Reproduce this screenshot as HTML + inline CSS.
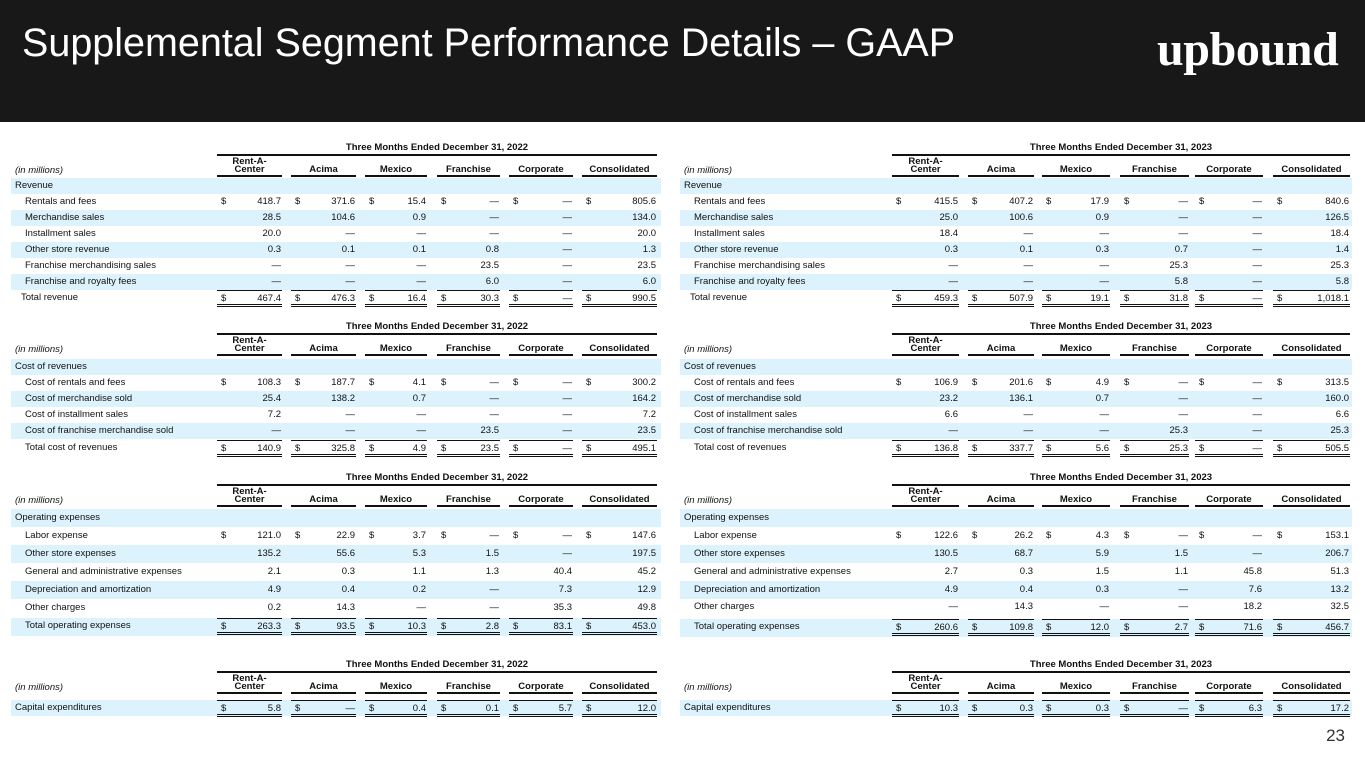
<!DOCTYPE html>
<html><head><meta charset="utf-8"><style>
*{margin:0;padding:0;box-sizing:border-box}
body{width:1365px;height:768px;background:#fff;position:relative;overflow:hidden;font-family:"Liberation Sans",Arial,sans-serif;color:#111;font-size:9.5px}
.hd{position:absolute;left:0;top:0;width:1365px;height:122px;background:#181818}
.ttl{position:absolute;left:22px;top:21px;color:#fff;font-size:39.5px;white-space:nowrap}
.logo{position:absolute;left:1157px;top:22px;color:#fff;font-family:"Liberation Serif",serif;font-weight:bold;font-size:48px;letter-spacing:-0.4px}
.pg{position:absolute;right:20px;top:726px;font-size:17px;color:#333}
.P{position:absolute;width:672px}
.L{left:11px;width:650px}.R{left:680px;width:672px}
.th{position:absolute;left:0;width:100%;height:40px}
.tt{position:absolute;top:1px;font-weight:bold;text-align:center;height:14px;line-height:14px}
.tl{position:absolute;top:14px;height:2px;background:#111}
.im{position:absolute;left:4px;top:25px;font-style:italic;line-height:12px}
.hc{position:absolute;bottom:3px;height:20px;border-bottom:2px solid #111;font-weight:bold;text-align:center;line-height:8px;display:flex;align-items:flex-end;justify-content:center;padding-bottom:1px}
.r{position:absolute;left:0;width:100%;height:16px;line-height:16px;white-space:nowrap}
.b{background:#dcf2fd}
.lb{position:absolute;left:4px}
.in{left:14px}
.c{position:absolute;top:0;height:16px;text-align:right;padding-right:1px}
.c s{position:absolute;left:4px;text-decoration:none}
.t .c{border-top:1px solid #111;border-bottom:3px double #111;height:17px;line-height:15px}
.L .c1{left:206px;width:65px}.L .c2{left:280px;width:65px}.L .c3{left:354px;width:62px}.L .c4{left:426px;width:63px}.L .c5{left:498px;width:64px}.L .c6{left:571px;width:75px}
.R .c1{left:212px;width:67px}.R .c2{left:288px;width:66px}.R .c3{left:362px;width:68px}.R .c4{left:440px;width:69px}.R .c5{left:515px;width:68px}.R .c6{left:593px;width:77px}
.L .tt,.L .tl{left:206px;width:440px}.R .tt,.R .tl{left:212px;width:458px}
</style></head><body>
<div class="hd"><div class="ttl">Supplemental Segment Performance Details – GAAP</div><div class="logo">upbound</div></div>

<!-- LEFT PANEL -->
<div class="P L" style="top:0;height:768px">
<div class="th" style="top:140px"><div class="tt">Three Months Ended December 31, 2022</div><div class="tl"></div><div class="im">(in millions)</div>
<div class="hc c1">Rent-A-<br>Center</div><div class="hc c2">Acima</div><div class="hc c3">Mexico</div><div class="hc c4">Franchise</div><div class="hc c5">Corporate</div><div class="hc c6">Consolidated</div></div>
<div class="r b" style="top:178px"><span class="lb">Revenue</span></div>
<div class="r" style="top:194px"><span class="lb in">Rentals and fees</span><span class="c c1"><s>$</s>418.7</span><span class="c c2"><s>$</s>371.6</span><span class="c c3"><s>$</s>15.4</span><span class="c c4"><s>$</s>—</span><span class="c c5"><s>$</s>—</span><span class="c c6"><s>$</s>805.6</span></div>
<div class="r b" style="top:210px"><span class="lb in">Merchandise sales</span><span class="c c1">28.5</span><span class="c c2">104.6</span><span class="c c3">0.9</span><span class="c c4">—</span><span class="c c5">—</span><span class="c c6">134.0</span></div>
<div class="r" style="top:226px"><span class="lb in">Installment sales</span><span class="c c1">20.0</span><span class="c c2">—</span><span class="c c3">—</span><span class="c c4">—</span><span class="c c5">—</span><span class="c c6">20.0</span></div>
<div class="r b" style="top:242px"><span class="lb in">Other store revenue</span><span class="c c1">0.3</span><span class="c c2">0.1</span><span class="c c3">0.1</span><span class="c c4">0.8</span><span class="c c5">—</span><span class="c c6">1.3</span></div>
<div class="r" style="top:258px"><span class="lb in">Franchise merchandising sales</span><span class="c c1">—</span><span class="c c2">—</span><span class="c c3">—</span><span class="c c4">23.5</span><span class="c c5">—</span><span class="c c6">23.5</span></div>
<div class="r b" style="top:274px"><span class="lb in">Franchise and royalty fees</span><span class="c c1">—</span><span class="c c2">—</span><span class="c c3">—</span><span class="c c4">6.0</span><span class="c c5">—</span><span class="c c6">6.0</span></div>
<div class="r t" style="top:290px"><span class="lb" style="left:10px">Total revenue</span><span class="c c1"><s>$</s>467.4</span><span class="c c2"><s>$</s>476.3</span><span class="c c3"><s>$</s>16.4</span><span class="c c4"><s>$</s>30.3</span><span class="c c5"><s>$</s>—</span><span class="c c6"><s>$</s>990.5</span></div>

<div class="th" style="top:319px"><div class="tt">Three Months Ended December 31, 2022</div><div class="tl"></div><div class="im">(in millions)</div>
<div class="hc c1">Rent-A-<br>Center</div><div class="hc c2">Acima</div><div class="hc c3">Mexico</div><div class="hc c4">Franchise</div><div class="hc c5">Corporate</div><div class="hc c6">Consolidated</div></div>
<div class="r b" style="top:359px"><span class="lb">Cost of revenues</span></div>
<div class="r" style="top:375px"><span class="lb in">Cost of rentals and fees</span><span class="c c1"><s>$</s>108.3</span><span class="c c2"><s>$</s>187.7</span><span class="c c3"><s>$</s>4.1</span><span class="c c4"><s>$</s>—</span><span class="c c5"><s>$</s>—</span><span class="c c6"><s>$</s>300.2</span></div>
<div class="r b" style="top:391px"><span class="lb in">Cost of merchandise sold</span><span class="c c1">25.4</span><span class="c c2">138.2</span><span class="c c3">0.7</span><span class="c c4">—</span><span class="c c5">—</span><span class="c c6">164.2</span></div>
<div class="r" style="top:407px"><span class="lb in">Cost of installment sales</span><span class="c c1">7.2</span><span class="c c2">—</span><span class="c c3">—</span><span class="c c4">—</span><span class="c c5">—</span><span class="c c6">7.2</span></div>
<div class="r b" style="top:423px"><span class="lb in">Cost of franchise merchandise sold</span><span class="c c1">—</span><span class="c c2">—</span><span class="c c3">—</span><span class="c c4">23.5</span><span class="c c5">—</span><span class="c c6">23.5</span></div>
<div class="r t" style="top:440px"><span class="lb in">Total cost of revenues</span><span class="c c1"><s>$</s>140.9</span><span class="c c2"><s>$</s>325.8</span><span class="c c3"><s>$</s>4.9</span><span class="c c4"><s>$</s>23.5</span><span class="c c5"><s>$</s>—</span><span class="c c6"><s>$</s>495.1</span></div>

<div class="th" style="top:470px"><div class="tt">Three Months Ended December 31, 2022</div><div class="tl"></div><div class="im">(in millions)</div>
<div class="hc c1">Rent-A-<br>Center</div><div class="hc c2">Acima</div><div class="hc c3">Mexico</div><div class="hc c4">Franchise</div><div class="hc c5">Corporate</div><div class="hc c6">Consolidated</div></div>
<div class="r b" style="top:509px;height:18px;line-height:18px"><span class="lb">Operating expenses</span></div>
<div class="r" style="top:528px"><span class="lb in">Labor expense</span><span class="c c1"><s>$</s>121.0</span><span class="c c2"><s>$</s>22.9</span><span class="c c3"><s>$</s>3.7</span><span class="c c4"><s>$</s>—</span><span class="c c5"><s>$</s>—</span><span class="c c6"><s>$</s>147.6</span></div>
<div class="r b" style="top:545px;height:18px;line-height:18px"><span class="lb in">Other store expenses</span><span class="c c1">135.2</span><span class="c c2">55.6</span><span class="c c3">5.3</span><span class="c c4">1.5</span><span class="c c5">—</span><span class="c c6">197.5</span></div>
<div class="r" style="top:564px"><span class="lb in">General and administrative expenses</span><span class="c c1">2.1</span><span class="c c2">0.3</span><span class="c c3">1.1</span><span class="c c4">1.3</span><span class="c c5">40.4</span><span class="c c6">45.2</span></div>
<div class="r b" style="top:581px;height:18px;line-height:18px"><span class="lb in">Depreciation and amortization</span><span class="c c1">4.9</span><span class="c c2">0.4</span><span class="c c3">0.2</span><span class="c c4">—</span><span class="c c5">7.3</span><span class="c c6">12.9</span></div>
<div class="r" style="top:600px"><span class="lb in">Other charges</span><span class="c c1">0.2</span><span class="c c2">14.3</span><span class="c c3">—</span><span class="c c4">—</span><span class="c c5">35.3</span><span class="c c6">49.8</span></div>
<div class="r b t" style="top:618px;height:18px"><span class="lb in">Total operating expenses</span><span class="c c1"><s>$</s>263.3</span><span class="c c2"><s>$</s>93.5</span><span class="c c3"><s>$</s>10.3</span><span class="c c4"><s>$</s>2.8</span><span class="c c5"><s>$</s>83.1</span><span class="c c6"><s>$</s>453.0</span></div>

<div class="th" style="top:657px"><div class="tt">Three Months Ended December 31, 2022</div><div class="tl"></div><div class="im">(in millions)</div>
<div class="hc c1">Rent-A-<br>Center</div><div class="hc c2">Acima</div><div class="hc c3">Mexico</div><div class="hc c4">Franchise</div><div class="hc c5">Corporate</div><div class="hc c6">Consolidated</div></div>
<div class="r b t" style="top:700px"><span class="lb">Capital expenditures</span><span class="c c1"><s>$</s>5.8</span><span class="c c2"><s>$</s>—</span><span class="c c3"><s>$</s>0.4</span><span class="c c4"><s>$</s>0.1</span><span class="c c5"><s>$</s>5.7</span><span class="c c6"><s>$</s>12.0</span></div>
</div>

<!-- RIGHT PANEL -->
<div class="P R" style="top:0;height:768px">
<div class="th" style="top:140px"><div class="tt">Three Months Ended December 31, 2023</div><div class="tl"></div><div class="im">(in millions)</div>
<div class="hc c1">Rent-A-<br>Center</div><div class="hc c2">Acima</div><div class="hc c3">Mexico</div><div class="hc c4">Franchise</div><div class="hc c5">Corporate</div><div class="hc c6">Consolidated</div></div>
<div class="r b" style="top:178px"><span class="lb">Revenue</span></div>
<div class="r" style="top:194px"><span class="lb in">Rentals and fees</span><span class="c c1"><s>$</s>415.5</span><span class="c c2"><s>$</s>407.2</span><span class="c c3"><s>$</s>17.9</span><span class="c c4"><s>$</s>—</span><span class="c c5"><s>$</s>—</span><span class="c c6"><s>$</s>840.6</span></div>
<div class="r b" style="top:210px"><span class="lb in">Merchandise sales</span><span class="c c1">25.0</span><span class="c c2">100.6</span><span class="c c3">0.9</span><span class="c c4">—</span><span class="c c5">—</span><span class="c c6">126.5</span></div>
<div class="r" style="top:226px"><span class="lb in">Installment sales</span><span class="c c1">18.4</span><span class="c c2">—</span><span class="c c3">—</span><span class="c c4">—</span><span class="c c5">—</span><span class="c c6">18.4</span></div>
<div class="r b" style="top:242px"><span class="lb in">Other store revenue</span><span class="c c1">0.3</span><span class="c c2">0.1</span><span class="c c3">0.3</span><span class="c c4">0.7</span><span class="c c5">—</span><span class="c c6">1.4</span></div>
<div class="r" style="top:258px"><span class="lb in">Franchise merchandising sales</span><span class="c c1">—</span><span class="c c2">—</span><span class="c c3">—</span><span class="c c4">25.3</span><span class="c c5">—</span><span class="c c6">25.3</span></div>
<div class="r b" style="top:274px"><span class="lb in">Franchise and royalty fees</span><span class="c c1">—</span><span class="c c2">—</span><span class="c c3">—</span><span class="c c4">5.8</span><span class="c c5">—</span><span class="c c6">5.8</span></div>
<div class="r t" style="top:290px"><span class="lb" style="left:10px">Total revenue</span><span class="c c1"><s>$</s>459.3</span><span class="c c2"><s>$</s>507.9</span><span class="c c3"><s>$</s>19.1</span><span class="c c4"><s>$</s>31.8</span><span class="c c5"><s>$</s>—</span><span class="c c6"><s>$</s>1,018.1</span></div>

<div class="th" style="top:319px"><div class="tt">Three Months Ended December 31, 2023</div><div class="tl"></div><div class="im">(in millions)</div>
<div class="hc c1">Rent-A-<br>Center</div><div class="hc c2">Acima</div><div class="hc c3">Mexico</div><div class="hc c4">Franchise</div><div class="hc c5">Corporate</div><div class="hc c6">Consolidated</div></div>
<div class="r b" style="top:359px"><span class="lb">Cost of revenues</span></div>
<div class="r" style="top:375px"><span class="lb in">Cost of rentals and fees</span><span class="c c1"><s>$</s>106.9</span><span class="c c2"><s>$</s>201.6</span><span class="c c3"><s>$</s>4.9</span><span class="c c4"><s>$</s>—</span><span class="c c5"><s>$</s>—</span><span class="c c6"><s>$</s>313.5</span></div>
<div class="r b" style="top:391px"><span class="lb in">Cost of merchandise sold</span><span class="c c1">23.2</span><span class="c c2">136.1</span><span class="c c3">0.7</span><span class="c c4">—</span><span class="c c5">—</span><span class="c c6">160.0</span></div>
<div class="r" style="top:407px"><span class="lb in">Cost of installment sales</span><span class="c c1">6.6</span><span class="c c2">—</span><span class="c c3">—</span><span class="c c4">—</span><span class="c c5">—</span><span class="c c6">6.6</span></div>
<div class="r b" style="top:423px"><span class="lb in">Cost of franchise merchandise sold</span><span class="c c1">—</span><span class="c c2">—</span><span class="c c3">—</span><span class="c c4">25.3</span><span class="c c5">—</span><span class="c c6">25.3</span></div>
<div class="r t" style="top:440px"><span class="lb in">Total cost of revenues</span><span class="c c1"><s>$</s>136.8</span><span class="c c2"><s>$</s>337.7</span><span class="c c3"><s>$</s>5.6</span><span class="c c4"><s>$</s>25.3</span><span class="c c5"><s>$</s>—</span><span class="c c6"><s>$</s>505.5</span></div>

<div class="th" style="top:470px"><div class="tt">Three Months Ended December 31, 2023</div><div class="tl"></div><div class="im">(in millions)</div>
<div class="hc c1">Rent-A-<br>Center</div><div class="hc c2">Acima</div><div class="hc c3">Mexico</div><div class="hc c4">Franchise</div><div class="hc c5">Corporate</div><div class="hc c6">Consolidated</div></div>
<div class="r b" style="top:509px;height:18px;line-height:18px"><span class="lb">Operating expenses</span></div>
<div class="r" style="top:528px"><span class="lb in">Labor expense</span><span class="c c1"><s>$</s>122.6</span><span class="c c2"><s>$</s>26.2</span><span class="c c3"><s>$</s>4.3</span><span class="c c4"><s>$</s>—</span><span class="c c5"><s>$</s>—</span><span class="c c6"><s>$</s>153.1</span></div>
<div class="r b" style="top:545px;height:18px;line-height:18px"><span class="lb in">Other store expenses</span><span class="c c1">130.5</span><span class="c c2">68.7</span><span class="c c3">5.9</span><span class="c c4">1.5</span><span class="c c5">—</span><span class="c c6">206.7</span></div>
<div class="r" style="top:564px"><span class="lb in">General and administrative expenses</span><span class="c c1">2.7</span><span class="c c2">0.3</span><span class="c c3">1.5</span><span class="c c4">1.1</span><span class="c c5">45.8</span><span class="c c6">51.3</span></div>
<div class="r b" style="top:581px;height:18px;line-height:18px"><span class="lb in">Depreciation and amortization</span><span class="c c1">4.9</span><span class="c c2">0.4</span><span class="c c3">0.3</span><span class="c c4">—</span><span class="c c5">7.6</span><span class="c c6">13.2</span></div>
<div class="r" style="top:599px"><span class="lb in">Other charges</span><span class="c c1">—</span><span class="c c2">14.3</span><span class="c c3">—</span><span class="c c4">—</span><span class="c c5">18.2</span><span class="c c6">32.5</span></div>
<div class="r b t" style="top:619px;height:18px"><span class="lb in">Total operating expenses</span><span class="c c1"><s>$</s>260.6</span><span class="c c2"><s>$</s>109.8</span><span class="c c3"><s>$</s>12.0</span><span class="c c4"><s>$</s>2.7</span><span class="c c5"><s>$</s>71.6</span><span class="c c6"><s>$</s>456.7</span></div>

<div class="th" style="top:657px"><div class="tt">Three Months Ended December 31, 2023</div><div class="tl"></div><div class="im">(in millions)</div>
<div class="hc c1">Rent-A-<br>Center</div><div class="hc c2">Acima</div><div class="hc c3">Mexico</div><div class="hc c4">Franchise</div><div class="hc c5">Corporate</div><div class="hc c6">Consolidated</div></div>
<div class="r b t" style="top:700px"><span class="lb">Capital expenditures</span><span class="c c1"><s>$</s>10.3</span><span class="c c2"><s>$</s>0.3</span><span class="c c3"><s>$</s>0.3</span><span class="c c4"><s>$</s>—</span><span class="c c5"><s>$</s>6.3</span><span class="c c6"><s>$</s>17.2</span></div>
</div>
<div class="pg">23</div>
</body></html>
